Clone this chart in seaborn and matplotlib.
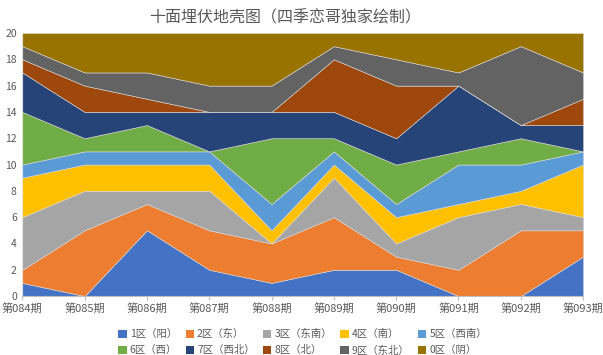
import matplotlib
matplotlib.use("Agg")
import matplotlib.pyplot as plt
import seaborn as sns
import numpy as np
from matplotlib.patches import Patch

# periods on the x axis
periods = ["第084期", "第085期", "第086期", "第087期", "第088期",
           "第089期", "第090期", "第091期", "第092期", "第093期"]

# legend names of the ten zones
zones = ["1区（阳）", "2区（东）", "3区（东南）", "4区（南）", "5区（西南）",
         "6区（西）", "7区（西北）", "8区（北）", "9区（东北）", "0区（阴）"]

# counts per zone, one value per period
z1 = [1, 0, 5, 2, 1, 2, 2, 0, 0, 3]
z2 = [1, 5, 2, 3, 3, 4, 1, 2, 5, 2]
z3 = [4, 3, 1, 3, 0, 3, 1, 4, 2, 1]
z4 = [3, 2, 2, 2, 1, 1, 2, 1, 1, 4]
z5 = [1, 1, 1, 1, 2, 1, 1, 3, 2, 1]
z6 = [4, 1, 2, 0, 5, 1, 3, 1, 2, 0]
z7 = [3, 2, 1, 3, 2, 2, 2, 5, 1, 2]
z8 = [1, 2, 1, 0, 0, 4, 4, 0, 0, 2]
z9 = [1, 1, 2, 2, 2, 1, 2, 1, 6, 2]
z0 = [1, 3, 3, 4, 4, 1, 2, 3, 1, 3]

colors = ["#4472C4", "#ED7D31", "#A5A5A5", "#FFC000", "#5B9BD5",
          "#70AD47", "#264478", "#9E480E", "#636363", "#997300"]

sns.set_theme(style="white")
plt.rcParams["font.family"] = ["Noto Sans CJK SC", "DejaVu Sans"]
txt = "#595959"

fig = plt.figure(figsize=(6.03, 3.55), dpi=100)
ax = fig.add_axes([0.037, 0.166, 0.93, 0.741])

x = np.arange(len(periods))
ax.stackplot(x, z1, z2, z3, z4, z5, z6, z7, z8, z9, z0,
             colors=colors, edgecolor="#d9d9d9", linewidth=0.4)

ax.set_xlim(0, len(periods) - 1)
ax.set_ylim(0, 20)
ax.set_yticks(range(0, 21, 2))
ax.set_xticks(x)
ax.set_xticklabels(periods)
ax.tick_params(axis="x", labelsize=8, colors=txt, length=3, width=0.8,
               color="#bfbfbf", pad=2, direction="out", bottom=True)
ax.tick_params(axis="y", labelsize=7.5, colors=txt, length=0, pad=4)

for side in ["top", "right", "left"]:
    ax.spines[side].set_visible(False)
ax.spines["bottom"].set_color("#bfbfbf")
ax.spines["bottom"].set_linewidth(0.8)

fig.text(0.473, 0.948, "十面埋伏地壳图（四季恋哥独家绘制）",
         ha="center", va="center", fontsize=11.5, color=txt)

# legend fills column by column, so interleave the two rows
handles = [Patch(facecolor=c, edgecolor="none") for c in colors]
order = [0, 5, 1, 6, 2, 7, 3, 8, 4, 9]
fig.legend([handles[i] for i in order], [zones[i] for i in order],
           ncol=5, loc="upper center",
           bbox_to_anchor=(0.502, 0.088), frameon=False, fontsize=7.5,
           labelcolor=txt, handlelength=0.8, handleheight=0.8,
           handletextpad=0.3, columnspacing=0.8, labelspacing=0.6,
           borderpad=0)

fig.savefig("out.png", dpi=100)
